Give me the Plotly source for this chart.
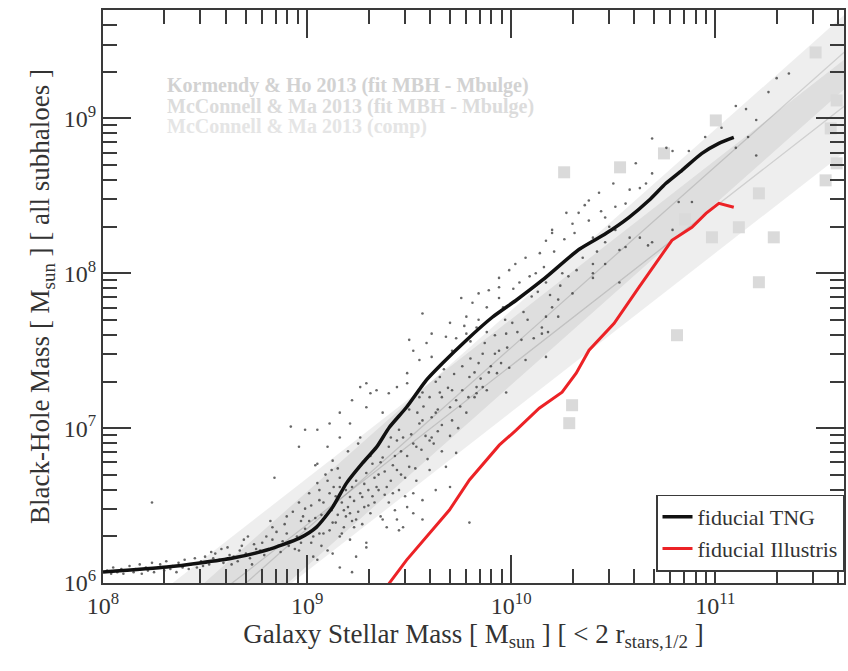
import plotly.graph_objects as go

# ---------------- data (log10 values) ----------------
# TNG running median: log10 M* [Msun], log10 MBH [Msun]
tng_logm = [8.0, 8.313, 8.474, 8.636, 8.802, 8.963, 9.046, 9.125, 9.193, 9.271, 9.340,
            9.403, 9.487, 9.584, 9.663, 9.780, 9.907, 10.024, 10.152, 10.333, 10.465,
            10.577, 10.675, 10.758, 10.836, 10.934, 11.017, 11.090]
tng_logbh = [6.071, 6.103, 6.129, 6.161, 6.213, 6.290, 6.361, 6.490, 6.645, 6.774, 6.877,
             7.006, 7.135, 7.310, 7.419, 7.568, 7.716, 7.826, 7.955, 8.155, 8.258,
             8.361, 8.471, 8.581, 8.665, 8.774, 8.839, 8.877]

# Illustris running median
ill_logm = [9.38, 9.403, 9.487, 9.584, 9.697, 9.795, 9.878, 9.941, 10.024, 10.137, 10.249,
            10.318, 10.381, 10.504, 10.626, 10.787, 10.885, 10.954, 11.017, 11.090]
ill_logbh = [5.95, 6.0, 6.148, 6.297, 6.471, 6.665, 6.794, 6.890, 6.987, 7.129, 7.232,
             7.355, 7.503, 7.677, 7.910, 8.213, 8.297, 8.387, 8.452, 8.426]

# MBH - Mbulge fit relations (end points of the straight lines and their scatter bands)
fit_logm = [8.0, 11.7]
kh_mid = [5.18, 9.509]
kh_lo = [4.94, 9.269]
kh_hi = [5.42, 9.749]
mm_mid = [5.35, 9.15]
mm_lo = [5.05, 8.85]
mm_hi = [5.65, 9.45]

# McConnell & Ma 2013 compilation
comp_logm = [11.491, 11.594, 11.565, 11.594, 11.540, 11.002, 10.748, 10.533, 10.259,
             11.213, 11.115, 10.983, 11.286, 10.851, 11.213, 10.812, 10.298, 10.284]
comp_logbh = [9.426, 9.116, 8.935, 8.710, 8.600, 8.987, 8.774, 8.684, 8.652,
              8.516, 8.297, 8.232, 8.232, 8.348, 7.942, 7.600, 7.148, 7.032]

# individual TNG subhaloes (log10 M*, log10 MBH)
subhalo_points = [
    (8.02, 6.08), (8.04, 6.06), (8.05, 6.10), (8.07, 6.07), (8.09, 6.09), (8.10, 6.06),
    (8.12, 6.08), (8.13, 6.11), (8.15, 6.07), (8.16, 6.09), (8.18, 6.12), (8.19, 6.06),
    (8.21, 6.10), (8.22, 6.08), (8.24, 6.13), (8.25, 6.07), (8.27, 6.10), (8.28, 6.12),
    (8.30, 6.08), (8.31, 6.14), (8.33, 6.09), (8.34, 6.11), (8.36, 6.07), (8.37, 6.13),
    (8.39, 6.10), (8.40, 6.15), (8.42, 6.09), (8.43, 6.12), (8.45, 6.16), (8.46, 6.10),
    (8.48, 6.14), (8.49, 6.11), (8.50, 6.17), (8.24, 6.52),
    (8.52, 6.12), (8.54, 6.16), (8.55, 6.19), (8.57, 6.15), (8.59, 6.13), (8.61, 6.23),
    (8.62, 6.18), (8.64, 6.17), (8.66, 6.14), (8.67, 6.21), (8.69, 6.28), (8.70, 6.19),
    (8.72, 6.16), (8.74, 6.25), (8.75, 6.22), (8.77, 6.21), (8.79, 6.18), (8.80, 6.30),
    (8.83, 6.36), (8.83, 6.28), (8.84, 6.68), (8.86, 6.24), (8.87, 6.20), (8.90, 6.43),
    (8.90, 6.32), (8.92, 6.27), (8.92, 7.01), (8.94, 6.22), (8.96, 6.52), (8.96, 6.21),
    (8.96, 6.88), (8.98, 6.43), (8.99, 6.35), (8.99, 6.99),
    (8.53, 6.20), (8.58, 6.22), (8.63, 6.12), (8.68, 6.24), (8.71, 6.30), (8.73, 6.12),
    (8.78, 6.26), (8.81, 6.22), (8.82, 6.40), (8.85, 6.33), (8.88, 6.27), (8.89, 6.38),
    (8.91, 6.24), (8.93, 6.46), (8.95, 6.30), (8.97, 6.40), (8.97, 6.26), (8.99, 6.48),
    (9.01, 6.58), (9.02, 6.26), (9.03, 6.17), (9.04, 6.76), (9.05, 6.645), (9.05, 6.15),
    (9.05, 6.99), (9.05, 6.77), (9.06, 6.535), (9.06, 6.32), (9.07, 6.44), (9.08, 6.32),
    (9.10, 6.21), (9.10, 6.66), (9.10, 6.88), (9.11, 6.58), (9.11, 7.03), (9.12, 6.73),
    (9.125, 6.39), (9.125, 6.79), (9.125, 6.19), (9.13, 6.50), (9.14, 6.39), (9.16, 6.30),
    (9.16, 6.68), (9.16, 6.62), (9.16, 6.94), (9.16, 7.10), (9.16, 6.10), (9.17, 6.32),
    (9.18, 6.47), (9.19, 6.43), (9.20, 6.85), (9.21, 6.555), (9.21, 6.45), (9.21, 6.28),
    (9.21, 7.03), (9.22, 7.18), (9.22, 6.07), (9.23, 6.36), (9.24, 6.66), (9.24, 6.41),
    (9.24, 6.17), (9.25, 6.90), (9.26, 6.94), (9.26, 7.265), (9.27, 6.555), (9.28, 6.49),
    (9.29, 6.71), (9.29, 6.23), (9.29, 6.26), (9.29, 7.135), (9.29, 7.29), (9.30, 6.60),
    (9.31, 6.45), (9.31, 7.225), (9.32, 6.77), (9.33, 6.52), (9.34, 6.62), (9.34, 7.245),
    (9.35, 6.70), (9.36, 6.43), (9.37, 6.81), (9.37, 6.41), (9.37, 7.10), (9.38, 6.57),
    (9.39, 6.36), (9.40, 6.88), (9.40, 6.52), (9.40, 7.225), (9.41, 6.66), (9.42, 6.76),
    (9.43, 6.47), (9.44, 6.92), (9.44, 6.41), (9.44, 6.73), (9.44, 7.265), (9.45, 6.99),
    (9.45, 6.60), (9.45, 6.34), (9.46, 6.85), (9.47, 6.36), (9.48, 6.68), (9.49, 6.49),
    (9.49, 7.355), (9.49, 7.29), (9.50, 6.75), (9.50, 7.12), (9.50, 7.57),
    (9.01, 6.40), (9.02, 6.50), (9.03, 6.30), (9.04, 6.42), (9.06, 6.60), (9.07, 6.24),
    (9.08, 6.52), (9.09, 6.70), (9.09, 6.43), (9.11, 6.34), (9.12, 6.47), (9.13, 6.62),
    (9.14, 6.56), (9.15, 6.44), (9.15, 6.74), (9.17, 6.52), (9.18, 6.36), (9.19, 6.60),
    (9.20, 6.49), (9.22, 6.40), (9.22, 6.62), (9.23, 6.53), (9.25, 6.46), (9.25, 6.74),
    (9.26, 6.58), (9.27, 6.38), (9.28, 6.64), (9.30, 6.50), (9.31, 6.82), (9.32, 6.56),
    (9.33, 6.68), (9.35, 6.60), (9.36, 6.78), (9.38, 6.72), (9.39, 6.62), (9.41, 6.94),
    (9.42, 6.58), (9.43, 6.82), (9.46, 6.70), (9.47, 6.94), (9.48, 6.56), (9.49, 6.82),
    (9.52, 6.58), (9.52, 6.45), (9.52, 7.50), (9.52, 6.90), (9.535, 6.66), (9.535, 6.88),
    (9.55, 7.44), (9.55, 7.20), (9.55, 7.03), (9.565, 6.41), (9.565, 7.05), (9.565, 6.535),
    (9.565, 7.23), (9.565, 7.74), (9.585, 7.55), (9.59, 6.80), (9.60, 6.92), (9.60, 6.73),
    (9.61, 7.61), (9.61, 7.46), (9.61, 7.07), (9.61, 6.94), (9.63, 7.10), (9.63, 6.60),
    (9.64, 6.98), (9.65, 7.33), (9.65, 7.23), (9.66, 7.20), (9.66, 6.85), (9.68, 7.59),
    (9.68, 6.75), (9.70, 7.135), (9.70, 6.62), (9.70, 7.68), (9.71, 7.50), (9.71, 7.245),
    (9.71, 7.05), (9.73, 7.18), (9.73, 6.84), (9.74, 7.00), (9.755, 7.84), (9.76, 7.245),
    (9.78, 7.72), (9.78, 7.61), (9.78, 7.10), (9.795, 7.33), (9.795, 6.39), (9.80, 7.45),
    (9.81, 7.81), (9.82, 7.20), (9.83, 7.225), (9.83, 7.65), (9.83, 7.265), (9.84, 7.87),
    (9.84, 7.42), (9.86, 7.265), (9.87, 7.55), (9.88, 7.78), (9.88, 7.245), (9.89, 7.89),
    (9.90, 7.40), (9.92, 7.60), (9.93, 7.355), (9.94, 7.91), (9.94, 7.97), (9.94, 7.50),
    (9.96, 7.78), (9.975, 7.61), (9.975, 7.23), (9.99, 8.02), (9.99, 7.39),
    (9.51, 6.96), (9.53, 6.74), (9.54, 7.10), (9.56, 6.86), (9.57, 7.14), (9.58, 6.95),
    (9.60, 7.20), (9.62, 6.90), (9.63, 7.30), (9.64, 7.12), (9.66, 7.02), (9.67, 7.38),
    (9.69, 7.26), (9.70, 6.95), (9.72, 7.35), (9.73, 7.58), (9.75, 7.14), (9.76, 7.40),
    (9.77, 7.66), (9.79, 7.20), (9.80, 7.56), (9.82, 7.36), (9.84, 7.70), (9.85, 7.32),
    (9.86, 7.48), (9.88, 7.62), (9.89, 7.36), (9.91, 7.72), (9.92, 7.48), (9.94, 7.84),
    (9.95, 7.42), (9.97, 7.70), (9.98, 7.52),
    (10.005, 7.68), (10.02, 8.06), (10.04, 7.94), (10.05, 7.57), (10.06, 7.75), (10.07, 8.10),
    (10.07, 7.44), (10.10, 7.85), (10.12, 8.00), (10.14, 8.13), (10.15, 7.65), (10.15, 7.61),
    (10.17, 7.72), (10.17, 7.46), (10.17, 7.94), (10.17, 8.21), (10.18, 7.62), (10.20, 8.28),
    (10.20, 7.78), (10.20, 8.26), (10.23, 7.72), (10.23, 7.83), (10.25, 8.00), (10.27, 8.39),
    (10.30, 7.87), (10.30, 8.32), (10.32, 8.02), (10.33, 8.39), (10.35, 8.10), (10.38, 8.47),
    (10.38, 8.34), (10.40, 8.00), (10.40, 7.97), (10.40, 8.23), (10.40, 8.06), (10.43, 8.52),
    (10.46, 8.36), (10.46, 8.06), (10.46, 8.20), (10.51, 8.43), (10.51, 8.28),
    (10.01, 7.90), (10.03, 7.62), (10.06, 7.86), (10.08, 7.70), (10.09, 7.98), (10.11, 7.58),
    (10.13, 7.88), (10.16, 8.04), (10.19, 7.86), (10.21, 8.14), (10.24, 7.92), (10.26, 8.22),
    (10.28, 7.98), (10.31, 8.26), (10.34, 8.16), (10.36, 8.44), (10.42, 8.14), (10.44, 8.40),
    (10.48, 8.30), (10.50, 8.58),
    (10.53, 7.94), (10.53, 8.15), (10.56, 8.45), (10.56, 8.17), (10.58, 8.54), (10.58, 8.23),
    (10.61, 8.71), (10.63, 8.55), (10.63, 8.23), (10.66, 8.58), (10.67, 8.18), (10.69, 8.645),
    (10.69, 8.87), (10.69, 8.20), (10.76, 8.81), (10.79, 8.79), (10.79, 8.28), (10.82, 8.46),
    (10.87, 8.79), (10.885, 8.46), (10.95, 8.88), (11.03, 8.94), (11.10, 9.08), (11.10, 8.81),
    (11.15, 9.06), (11.16, 8.88), (11.20, 8.99), (11.20, 8.76), (11.26, 9.17), (11.30, 9.26),
    (11.36, 9.29),
]

x_major = [1e8, 1e9, 1e10, 1e11]
x_major_text = ["10<sup>8</sup>", "10<sup>9</sup>", "10<sup>10</sup>", "10<sup>11</sup>"]
y_major = [1e6, 1e7, 1e8, 1e9]
y_major_text = ["10<sup>6</sup>", "10<sup>7</sup>", "10<sup>8</sup>", "10<sup>9</sup>"]

ref_labels = ["Kormendy & Ho 2013 (fit MBH - Mbulge)",
              "McConnell & Ma 2013 (fit MBH - Mbulge)",
              "McConnell & Ma 2013 (comp)"]
ref_colors = ["#d2d2d2", "#dcdcdc", "#e5e5e5"]

# ---------------- figure ----------------
def lin(vals):
    return [10 ** v for v in vals]

SERIF = "Liberation Serif, Times New Roman, serif"
AX = "#3a3a3a"
TXT = "#333333"

fig = go.Figure()

# scatter bands of the two fit relations
for lo, hi, mid in [(mm_lo, mm_hi, mm_mid), (kh_lo, kh_hi, kh_mid)]:
    band = "rgba(0,0,0,0.065)"
    fig.add_trace(go.Scatter(x=lin(fit_logm), y=lin(lo), mode="lines",
                             line=dict(width=0, color=band), showlegend=False,
                             hoverinfo="skip"))
    fig.add_trace(go.Scatter(x=lin(fit_logm), y=lin(hi), mode="lines",
                             line=dict(width=0, color=band), fill="tonexty",
                             fillcolor=band, showlegend=False, hoverinfo="skip"))
    fig.add_trace(go.Scatter(x=lin(fit_logm), y=lin(mid), mode="lines",
                             line=dict(width=1.3, color="rgba(0,0,0,0.13)"),
                             showlegend=False, hoverinfo="skip"))

# observational compilation
fig.add_trace(go.Scatter(x=lin(comp_logm), y=lin(comp_logbh), mode="markers",
                         marker=dict(symbol="square", size=12, color="#dadada",
                                     line=dict(width=0)),
                         showlegend=False))

# simulated subhaloes
fig.add_trace(go.Scatter(x=lin([p[0] for p in subhalo_points]),
                         y=lin([p[1] for p in subhalo_points]),
                         mode="markers",
                         marker=dict(size=2.6, color="rgba(40,40,40,0.7)", line=dict(width=0)),
                         showlegend=False))

# median relations
fig.add_trace(go.Scatter(x=lin(tng_logm), y=lin(tng_logbh), mode="lines",
                         line=dict(color="#111111", width=3.5, shape="spline", smoothing=0.6),
                         name="fiducial TNG"))
fig.add_trace(go.Scatter(x=lin(ill_logm), y=lin(ill_logbh), mode="lines",
                         line=dict(color="#ec2226", width=3),
                         name="fiducial Illustris"))

x_minor = [k * 10 ** d for d in range(8, 12) for k in range(2, 10)]
y_minor = [k * 10 ** d for d in range(6, 10) for k in range(2, 10)]

axis_common = dict(
    type="log", showgrid=False, zeroline=False,
    showline=True, linecolor=AX, linewidth=2, mirror="allticks",
    ticks="inside", ticklen=28, tickwidth=2, tickcolor=AX,
    tickfont=dict(family=SERIF, size=24, color=TXT),
)

fig.update_xaxes(
    **axis_common, range=[8, 11.63],
    tickvals=x_major, ticktext=x_major_text,
    minor=dict(tickvals=x_minor, ticks="inside", ticklen=14, tickwidth=2, tickcolor=AX),
    title=dict(text="Galaxy Stellar Mass [ M<sub>sun</sub> ] [ &lt; 2 r<sub>stars,1/2</sub> ]",
               font=dict(family=SERIF, size=27, color=TXT), standoff=6),
)
fig.update_yaxes(
    **axis_common, range=[6, 9.7],
    tickvals=y_major, ticktext=y_major_text,
    minor=dict(tickvals=y_minor, ticks="inside", ticklen=14, tickwidth=2, tickcolor=AX),
    title=dict(text="Black-Hole Mass [ M<sub>sun</sub> ] [ all subhaloes ]",
               font=dict(family=SERIF, size=27, color=TXT), standoff=6),
)

for i, (txt, col) in enumerate(zip(ref_labels, ref_colors)):
    fig.add_annotation(xref="paper", yref="paper", x=0.083, y=0.868 - i * 0.036,
                       xanchor="left", yanchor="middle", showarrow=False,
                       text="<b>" + txt + "</b>",
                       font=dict(family=SERIF, size=20, color=col))

fig.update_layout(
    width=848, height=671,
    margin=dict(l=103, r=2, t=10, b=88),
    paper_bgcolor="white", plot_bgcolor="white",
    legend=dict(x=1.0, xanchor="right", y=0.02, yanchor="bottom",
                bgcolor="white", bordercolor=AX, borderwidth=1.5,
                font=dict(family=SERIF, size=22, color=TXT),
                traceorder="normal", tracegroupgap=0, itemwidth=30),
    showlegend=True,
)

fig.write_html("out.html")
